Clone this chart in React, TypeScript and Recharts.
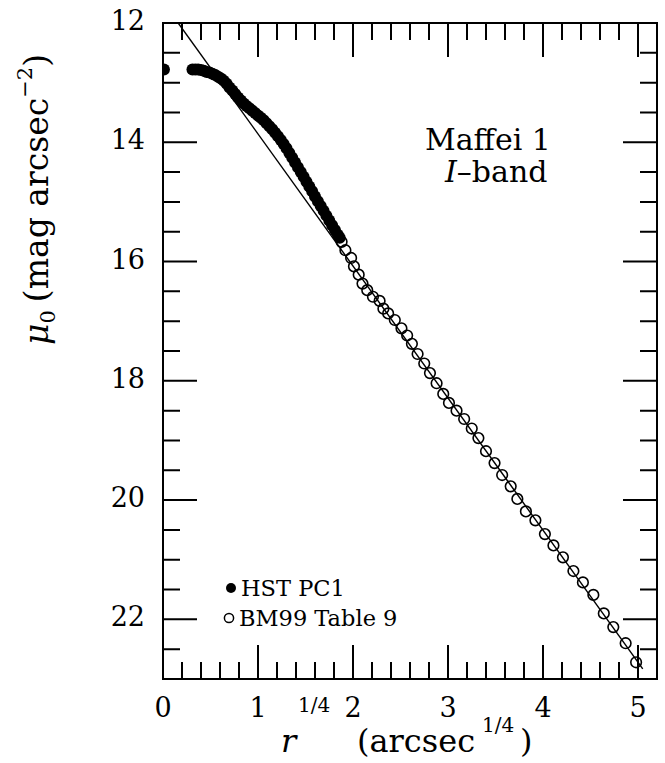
import React from 'react';
import { ScatterChart, Scatter, XAxis, YAxis } from 'recharts';

// HST PC1 profile (filled)
const hstX = [
  0.01, 0.31, 0.34, 0.37, 0.4, 0.43, 0.46, 0.49, 0.52, 0.55, 0.58, 0.61, 0.64,
  0.67, 0.7, 0.73, 0.76, 0.79, 0.82, 0.85, 0.88, 0.91, 0.94, 0.97, 1.0, 1.03,
  1.06, 1.09, 1.12, 1.15, 1.18, 1.21, 1.24, 1.27, 1.3, 1.33, 1.36, 1.39, 1.42,
  1.45, 1.48, 1.51, 1.54, 1.57, 1.6, 1.63, 1.66, 1.69, 1.72, 1.75, 1.78, 1.81,
  1.84, 1.86,
];
const hstMu = [
  12.78, 12.78, 12.78, 12.78, 12.79, 12.8, 12.82, 12.83, 12.85, 12.87, 12.9,
  12.93, 12.97, 13.02, 13.08, 13.13, 13.19, 13.25, 13.3, 13.35, 13.39, 13.43,
  13.47, 13.51, 13.55, 13.59, 13.63, 13.68, 13.73, 13.78, 13.84, 13.9, 13.96,
  14.03, 14.1, 14.18, 14.26, 14.34, 14.42, 14.5, 14.58, 14.66, 14.74, 14.82,
  14.91, 14.99, 15.07, 15.15, 15.23, 15.31, 15.39, 15.47, 15.55, 15.6,
];

// BM99 Table 9 (open)
const bmX = [
  1.88, 1.92, 1.98, 2.01, 2.06, 2.1, 2.15, 2.21, 2.28, 2.32, 2.37, 2.44, 2.51,
  2.57, 2.62, 2.68, 2.75, 2.81, 2.88, 2.95, 3.01, 3.09, 3.17, 3.25, 3.32, 3.4,
  3.49, 3.57, 3.66, 3.73, 3.82, 3.92, 4.02, 4.11, 4.21, 4.32, 4.42, 4.53, 4.64,
  4.74, 4.87, 4.98,
];
const bmMu = [
  15.67, 15.81, 15.94, 16.08, 16.22, 16.37, 16.48, 16.59, 16.66, 16.79, 16.87,
  16.98, 17.12, 17.24, 17.38, 17.55, 17.71, 17.87, 18.04, 18.22, 18.37, 18.5,
  18.64, 18.8, 18.96, 19.18, 19.38, 19.58, 19.77, 19.98, 20.19, 20.34, 20.57,
  20.76, 20.96, 21.19, 21.38, 21.59, 21.9, 22.13, 22.4, 22.72,
];

// r^1/4 law fit
const fitX = [0.16, 5.05];
const fitMu = [12, 22.83];

const xTicks = [
  0, 0.2, 0.4, 0.6, 0.8, 1, 1.2, 1.4, 1.6, 1.8, 2, 2.2, 2.4, 2.6, 2.8, 3, 3.2,
  3.4, 3.6, 3.8, 4, 4.2, 4.4, 4.6, 4.8, 5, 5.2,
];
const yTicks = [
  12, 12.5, 13, 13.5, 14, 14.5, 15, 15.5, 16, 16.5, 17, 17.5, 18, 18.5, 19,
  19.5, 20, 20.5, 21, 21.5, 22, 22.5, 23,
];
const yLabels = [12, 14, 16, 18, 20, 22];

const hst = hstX.map((x, i) => ({ x, y: hstMu[i] }));
const bm = bmX.map((x, i) => ({ x, y: bmMu[i] }));
const fit = fitX.map((x, i) => ({ x, y: fitMu[i] }));

const W = 665;
const H = 763;
const M = { top: 23, right: 8, bottom: 0, left: 0 };
const X_AXIS_H = 84;
const Y_AXIS_W = 163;
const PLOT_W = W - M.left - M.right - Y_AXIS_W;
const PLOT_H = H - M.top - M.bottom - X_AXIS_H;

const FONT = 'DejaVu Serif';
const MAJOR = 34;
const MINOR = 17;

const isInt = (v: number) => Math.abs(v - Math.round(v)) < 1e-6;

// bottom axis tick, mirrored to the top edge of the frame
function XTick(props: any) {
  const x = Number(props.x);
  const y = Number(props.y);
  const v = props.payload.value;
  const major = isInt(v);
  const len = major ? MAJOR : MINOR;
  const top = y - PLOT_H;
  return (
    <g>
      <path
        d={`M${x},${y}V${y - len}M${x},${top}V${top + len}`}
        stroke="#000"
        strokeWidth={2}
        fill="none"
      />
      {major && (
        <text x={x} y={y + 38} textAnchor="middle" fontFamily={FONT} fontSize={27} fill="#000">
          {v}
        </text>
      )}
    </g>
  );
}

// left axis tick, mirrored to the right edge of the frame
function YTick(props: any) {
  const x = Number(props.x);
  const y = Number(props.y);
  const v = props.payload.value;
  const major = yLabels.includes(v);
  const len = major ? MAJOR : MINOR;
  const right = x + PLOT_W;
  return (
    <g>
      <path
        d={`M${x},${y}H${x + len}M${right},${y}H${right - len}`}
        stroke="#000"
        strokeWidth={2}
        fill="none"
      />
      {major && (
        <text x={x - 18} y={y + 7} textAnchor="end" fontFamily={FONT} fontSize={27} fill="#000">
          {v}
        </text>
      )}
    </g>
  );
}

const filledDot = (p: any) => <circle cx={p.cx} cy={p.cy} r={6} fill="#000" />;
const openDot = (p: any) => (
  <circle cx={p.cx} cy={p.cy} r={5.3} fill="none" stroke="#000" strokeWidth={1.6} />
);
const noDot = () => <g />;

export default function App() {
  const axisLine = { stroke: '#000', strokeWidth: 2 };
  return (
    <div style={{ position: 'absolute', left: 0, top: 0, background: '#fff' }}>
      <ScatterChart width={W} height={H} margin={M}>
        <rect
          x={Y_AXIS_W}
          y={M.top}
          width={PLOT_W}
          height={PLOT_H}
          fill="none"
          stroke="#000"
          strokeWidth={2}
        />
        <XAxis
          type="number"
          dataKey="x"
          domain={[0, 5.2]}
          allowDataOverflow
          ticks={xTicks}
          interval={0}
          height={X_AXIS_H}
          tickLine={false}
          tickSize={0}
          tickMargin={0}
          axisLine={axisLine}
          tick={XTick}
        />
        <YAxis
          type="number"
          dataKey="y"
          domain={[12, 23]}
          reversed
          allowDataOverflow
          ticks={yTicks}
          interval={0}
          width={Y_AXIS_W}
          tickLine={false}
          tickSize={0}
          tickMargin={0}
          axisLine={axisLine}
          tick={YTick}
        />
        <Scatter
          data={fit}
          line={{ stroke: '#000', strokeWidth: 1.4 }}
          lineType="joint"
          shape={noDot}
          isAnimationActive={false}
        />
        <Scatter data={bm} shape={openDot} isAnimationActive={false} />
        <Scatter data={hst} shape={filledDot} isAnimationActive={false} />

        <text x={425} y={150} fontFamily={FONT} fontSize={30} fill="#000">
          Maffei 1
        </text>
        <text x={445} y={182} fontFamily={FONT} fontSize={30} fill="#000">
          <tspan fontStyle="italic">I</tspan>–band
        </text>

        <circle cx={231} cy={588} r={5} fill="#000" />
        <text x={241} y={596} fontFamily={FONT} fontSize={22.5} fill="#000">
          HST PC1
        </text>
        <circle cx={229} cy={618} r={4.6} fill="none" stroke="#000" strokeWidth={1.5} />
        <text x={239} y={626} fontFamily={FONT} fontSize={22.5} fill="#000">
          BM99 Table 9
        </text>

        <text x={281} y={752} fontFamily={FONT} fontSize={32} fontStyle="italic" fill="#000">
          r
        </text>
        <text x={298} y={712} fontFamily={FONT} fontSize={20} fill="#000">
          1/4
        </text>
        <text x={357} y={752} fontFamily={FONT} fontSize={32} fill="#000">
          (arcsec
        </text>
        <text x={482} y={732} fontFamily={FONT} fontSize={20} fill="#000">
          1/4
        </text>
        <text x={520} y={752} fontFamily={FONT} fontSize={32} fill="#000">
          )
        </text>

        <text transform="translate(48,345) rotate(-90)" fontFamily={FONT} fontSize={33} fill="#000">
          <tspan fontStyle="italic">μ</tspan>
          <tspan dy={7} fontSize={21}>0</tspan>
          <tspan dy={-7} dx={8}>(mag arcsec</tspan>
          <tspan dy={-16} fontSize={21}>−2</tspan>
          <tspan dy={16}>)</tspan>
        </text>
      </ScatterChart>
    </div>
  );
}
